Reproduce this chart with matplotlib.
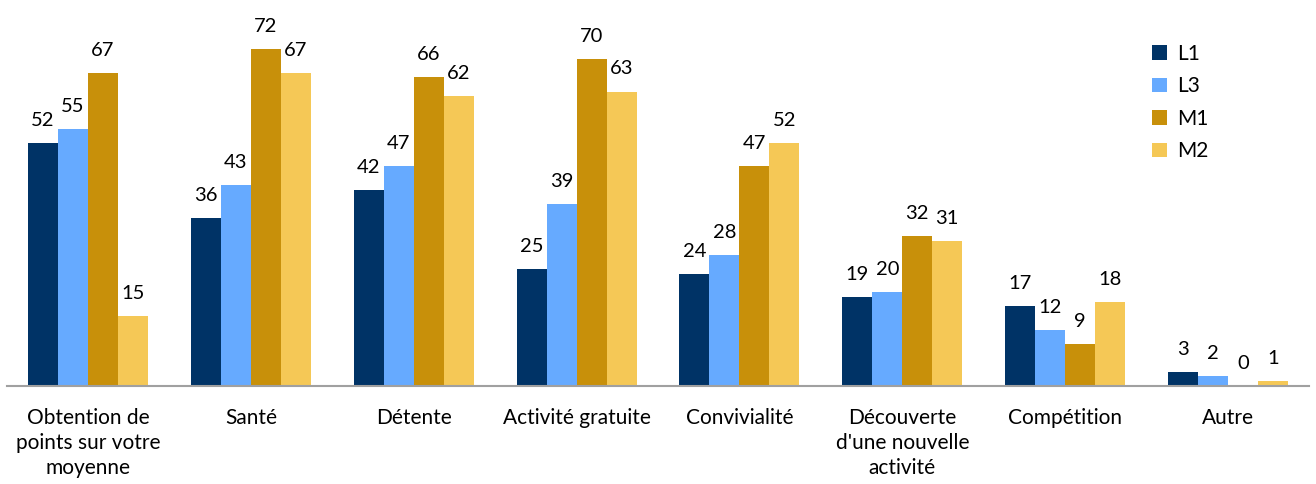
import numpy as np
import matplotlib.pyplot as plt

categories = ["Obtention de\npoints sur votre\nmoyenne", "Santé", "Détente",
              "Activité gratuite", "Convivialité",
              "Découverte\nd'une nouvelle\nactivité", "Compétition", "Autre"]
series = ["L1", "L3", "M1", "M2"]
L1 = [52, 36, 42, 25, 24, 19, 17, 3]
L3 = [55, 43, 47, 39, 28, 20, 12, 2]
M1 = [67, 72, 66, 70, 47, 32, 9, 0]
M2 = [15, 67, 62, 63, 52, 31, 18, 1]
values = [L1, L3, M1, M2]
colors = ["#003366", "#66aaff", "#c8900a", "#f5c856"]

plt.rcParams['font.family'] = ['Lato', 'DejaVu Sans']

fig = plt.figure(figsize=(13.16, 4.84), dpi=100)
ax = fig.add_axes([0.005, 0.203, 0.990, 0.772])

x = np.arange(len(categories))
w = 0.184
for i, (s, vals, c) in enumerate(zip(series, values, colors)):
    pos = x + (i - 1.5) * w
    ax.bar(pos, vals, w, color=c, label=s)
    for p, v in zip(pos, vals):
        ax.text(p, v + 3.0, str(v), ha="center", va="bottom", fontsize=14.5)

ax.set_xlim(-0.5, len(categories) - 0.5)
ax.set_ylim(0, 80)
ax.set_xticks(x)
ax.set_xticklabels(categories, fontsize=15, linespacing=1.3, va="top")
ax.tick_params(axis="x", length=0, pad=16)
ax.set_yticks([])
for side in ["top", "left", "right"]:
    ax.spines[side].set_visible(False)
ax.spines["bottom"].set_color("#a0a0a0")
ax.spines["bottom"].set_linewidth(1.5)

ax.legend(loc="upper right", bbox_to_anchor=(0.937, 0.965), frameon=False,
          fontsize=15, handlelength=0.7, handleheight=0.7, labelspacing=0.6,
          handletextpad=0.5)

fig.savefig("out.png", dpi=100)
